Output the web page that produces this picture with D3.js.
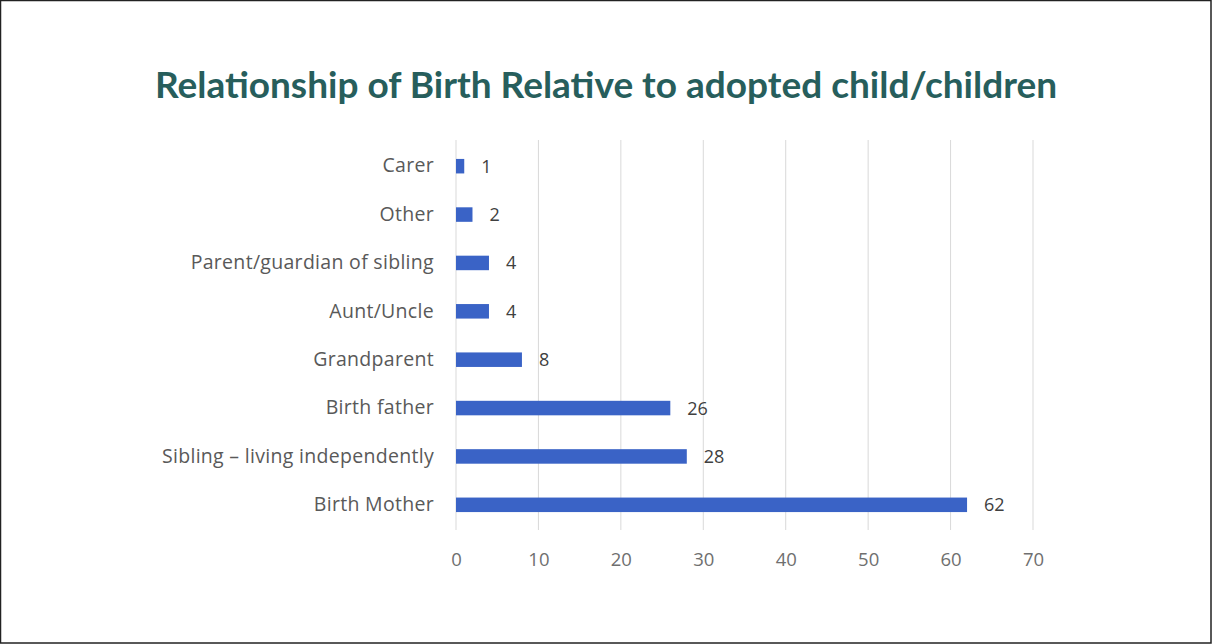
<!DOCTYPE html>
<html><head><meta charset="utf-8">
<script src="https://cdn.jsdelivr.net/npm/d3@7"></script>
<style>body{margin:0;background:#fff}svg{display:block}</style>
</head><body>
<script>
const categories = ["Carer","Other","Parent/guardian of sibling","Aunt/Uncle","Grandparent","Birth father","Sibling \u2013 living independently","Birth Mother"];
const values = [1,2,4,4,8,26,28,62];
const tickValues = [0,10,20,30,40,50,60,70];
const title = "Relationship of Birth Relative to adopted child/children";

const W=1212,H=644;
const svg=d3.select("body").append("svg").attr("width",W).attr("height",H);
svg.append("rect").attr("x",0.5).attr("y",0.5).attr("width",W-1.5).attr("height",H-1.5).attr("fill","#fff").attr("stroke","#222").attr("stroke-width",1.5);

svg.append("text").attr("x",606).attr("y",98).attr("text-anchor","middle")
  .attr("font-family","Lato, 'Open Sans', sans-serif").attr("font-weight","bold").attr("font-size",37)
  .attr("fill","#275e5c").text(title);

const x=d3.scaleLinear().domain([0,70]).range([456,1033]);
const y=d3.scaleBand().domain(categories).range([142,529]).paddingInner(0.7).paddingOuter(0.35);

const FONT="'Open Sans', sans-serif";
const g=svg.append("g");
g.selectAll("line.grid").data(tickValues).join("line").attr("class","grid")
  .attr("x1",d=>x(d)).attr("x2",d=>x(d)).attr("y1",140).attr("y2",530)
  .attr("stroke","#d9d9d9").attr("stroke-width",1);

g.selectAll("rect.bar").data(values).join("rect").attr("class","bar")
  .attr("x",x(0)).attr("y",(d,i)=>y(categories[i])).attr("width",d=>x(d)-x(0)).attr("height",y.bandwidth())
  .attr("fill","#3a63c6");

g.selectAll("text.val").data(values).join("text").attr("class","val")
  .attr("x",d=>x(d)+17).attr("y",(d,i)=>y(categories[i])+y.bandwidth()/2).attr("dy","0.36em")
  .attr("font-family",FONT).attr("font-size",18).attr("fill","#404040").text(d=>d);

const yAxis=d3.axisLeft(y).tickSize(0).tickPadding(22);
const ya=svg.append("g").attr("transform",`translate(${x(0)},0)`).call(yAxis);
ya.select(".domain").remove();
ya.selectAll("text").attr("font-family",FONT).attr("font-size",19.5).attr("letter-spacing",0.3).attr("fill","#595959");

const xAxis=d3.axisBottom(x).tickValues(tickValues).tickSize(0).tickPadding(17);
const xa=svg.append("g").attr("transform","translate(0,536)").call(xAxis);
xa.select(".domain").remove();
xa.selectAll("text").attr("font-family",FONT).attr("font-size",18.5).attr("fill","#6f6f6f");
</script>
</body></html>
